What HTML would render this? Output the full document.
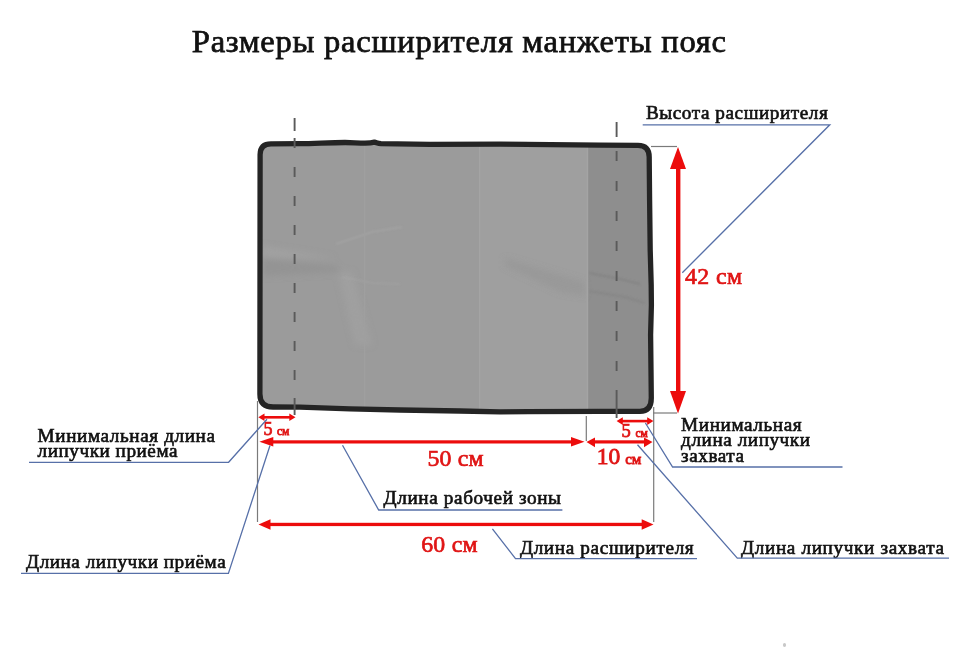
<!DOCTYPE html>
<html><head><meta charset="utf-8">
<style>
html,body{margin:0;padding:0;background:#fff;width:970px;height:647px;overflow:hidden}
svg{position:absolute;left:0;top:0;will-change:transform}
text{font-family:"Liberation Serif",serif}
</style></head>
<body>
<svg width="970" height="647" viewBox="0 0 970 647">
<defs>
<filter id="bl3" x="-20%" y="-50%" width="140%" height="200%"><feGaussianBlur stdDeviation="3"/></filter>
<filter id="bl1" x="-20%" y="-50%" width="140%" height="200%"><feGaussianBlur stdDeviation="1"/></filter>
<clipPath id="mc"><path d="M271,143.9 L300,143.7 C315,143.5 330,142.6 345,142.5 C352,142.5 358,143.2 365,143.2 C369,143.1 372,142.8 374.5,142.2 C376.5,142.6 378,143.4 381,143.6 L430,144.3 L500,144.2 L600,145.1 L638,145.4 Q649.2,145.6 649.2,157 L649.6,200 L650.2,250 L651.2,285 L651.4,305 L650.6,335 L651,370 L651.3,398 Q651.3,411.3 640,411.3 L600,411.4 L500,411.8 L460,411 L400,410 L350,408.9 L300,407.2 L273,407 Q259.9,407 259.9,394 L260.1,154.5 Q260.3,143.9 271,143.9 Z"/></clipPath>
</defs>
<text x="191.8" y="51.8" font-size="32.6" fill="#111" stroke="#111" stroke-width="0.75" textLength="534.2" lengthAdjust="spacing">Размеры расширителя манжеты пояс</text>
<text x="645.9" y="118.8" font-size="19.2" fill="#111" stroke="#111" stroke-width="0.65" textLength="181.9" lengthAdjust="spacing">Высота расширителя</text>
<text x="37.6" y="441.6" font-size="19.2" fill="#111" stroke="#111" stroke-width="0.65" textLength="177.4" lengthAdjust="spacing">Минимальная длина</text>
<text x="37.6" y="457.1" font-size="19.2" fill="#111" stroke="#111" stroke-width="0.65" textLength="139.9" lengthAdjust="spacing">липучки приёма</text>
<text x="26.0" y="568.4" font-size="19.2" fill="#111" stroke="#111" stroke-width="0.65" textLength="199.70000000000002" lengthAdjust="spacing">Длина липучки приёма</text>
<text x="383.6" y="504.3" font-size="19.2" fill="#111" stroke="#111" stroke-width="0.65" textLength="177.4" lengthAdjust="spacing">Длина рабочей зоны</text>
<text x="519.9" y="554.0" font-size="19.2" fill="#111" stroke="#111" stroke-width="0.65" textLength="173.8" lengthAdjust="spacing">Длина расширителя</text>
<text x="681.1" y="430.9" font-size="19.2" fill="#111" stroke="#111" stroke-width="0.65" textLength="120.60000000000001" lengthAdjust="spacing">Минимальная</text>
<text x="681.1" y="446.1" font-size="19.2" fill="#111" stroke="#111" stroke-width="0.65" textLength="128.9" lengthAdjust="spacing">длина липучки</text>
<text x="681.1" y="462.1" font-size="19.2" fill="#111" stroke="#111" stroke-width="0.65" textLength="62.9" lengthAdjust="spacing">захвата</text>
<text x="741.0" y="554.0" font-size="19.2" fill="#111" stroke="#111" stroke-width="0.65" textLength="203.0" lengthAdjust="spacing">Длина липучки захвата</text>

<g clip-path="url(#mc)">
<rect x="250" y="130" width="410" height="290" fill="#9b9b9b"/>
<rect x="480" y="130" width="108" height="290" fill="#9f9f9f"/>
<rect x="588" y="130" width="70" height="290" fill="#8e8e8e"/>
<g filter="url(#bl3)">
<polygon points="262,258 336,266 342,272 262,276" fill="#8e8e8e" opacity="0.55"/>
<polygon points="262,246 336,258 262,258" fill="#a8a8a8" opacity="0.5"/>
<polygon points="505,258 585,282 585,296 560,292 505,266" fill="#929292" opacity="0.45"/>
<polygon points="338,272 352,272 372,345 355,345" fill="#a4a4a4" opacity="0.6"/>

</g>
<g filter="url(#bl1)">
<polyline points="336,244 372,232 402,227" fill="none" stroke="#b2b2b2" stroke-width="1.6" opacity="0.45"/>
<polyline points="342,277 372,283 400,284" fill="none" stroke="#adadad" stroke-width="1.4" opacity="0.4"/>
<polyline points="589,273 620,279 640,284" fill="none" stroke="#7a7a7a" stroke-width="1.6" opacity="0.6"/>
<polyline points="589,291 625,297 645,303" fill="none" stroke="#7c7c7c" stroke-width="1.6" opacity="0.5"/>
</g>
<rect x="586.6" y="130" width="1.6" height="290" fill="#a4a4a4"/>
<rect x="364" y="130" width="1.2" height="290" fill="#9f9f9f"/>
<rect x="479" y="130" width="1.2" height="290" fill="#a4a4a4"/>
</g>
<path d="M271,143.9 L300,143.7 C315,143.5 330,142.6 345,142.5 C352,142.5 358,143.2 365,143.2 C369,143.1 372,142.8 374.5,142.2 C376.5,142.6 378,143.4 381,143.6 L430,144.3 L500,144.2 L600,145.1 L638,145.4 Q649.2,145.6 649.2,157 L649.6,200 L650.2,250 L651.2,285 L651.4,305 L650.6,335 L651,370 L651.3,398 Q651.3,411.3 640,411.3 L600,411.4 L500,411.8 L460,411 L400,410 L350,408.9 L300,407.2 L273,407 Q259.9,407 259.9,394 L260.1,154.5 Q260.3,143.9 271,143.9 Z" fill="none" stroke="#242424" stroke-width="5.3"/>

<g stroke="#5a5a5a" stroke-width="1.9">
<line x1="294.6" y1="118" x2="294.6" y2="131"/>
<line x1="294.6" y1="138" x2="294.6" y2="380" stroke-dasharray="10 19"/>
<line x1="294.6" y1="398" x2="294.6" y2="415"/>
<line x1="616.6" y1="122" x2="616.6" y2="137"/>
<line x1="616.6" y1="151" x2="616.6" y2="372" stroke-dasharray="10 20"/>
<line x1="616.6" y1="390" x2="616.6" y2="418"/>
</g>

<g stroke="#7a7a7a" stroke-width="1.2">
<line x1="651" y1="146.5" x2="677" y2="146.5"/>
<line x1="653" y1="413" x2="677" y2="413"/>
<line x1="257.5" y1="401" x2="257.5" y2="522"/>
<line x1="653.7" y1="407" x2="653.7" y2="522"/>
<line x1="586.3" y1="416" x2="586.3" y2="441"/>
</g>

<g fill="#ec0c0c">
<rect x="676" y="165" width="4.4" height="230"/>
<polygon points="678,147 670,169 686,169"/>
<polygon points="678,413.5 670,391 686,391"/>
<rect x="262" y="416" width="30" height="2.6"/>
<polygon points="258.3,417.3 264.5,413.5 264.5,421.1"/>
<polygon points="295.5,417.3 289.3,413.5 289.3,421.1"/>
<rect x="620" y="419.8" width="30" height="2.6"/>
<polygon points="616.6,421.1 622.8,417.3 622.8,424.9"/>
<polygon points="653.4,421.1 647.2,417.3 647.2,424.9"/>
<rect x="270" y="440.3" width="304" height="3.2"/>
<polygon points="259.4,441.8 273.3,437 273.3,446.4"/>
<polygon points="584.5,441.8 571,437 571,446.4"/>
<rect x="592" y="440.3" width="55" height="3.2"/>
<polygon points="586.5,442 595,437.6 595,447.2"/>
<polygon points="652.5,442 644,437.6 644,447.2"/>
<rect x="268" y="522.8" width="377" height="3.3"/>
<polygon points="258.5,524.5 270.5,519.2 270.5,529.7"/>
<polygon points="653.5,524.5 641.7,519.2 641.7,529.7"/>
</g>
<text x="685.0" y="284.0" font-size="23.8" fill="#e01515" stroke="#e01515" stroke-width="0.7" textLength="57.0" lengthAdjust="spacing">42 см</text>
<text x="427.4" y="465.8" font-size="23.8" fill="#e01515" stroke="#e01515" stroke-width="0.7" textLength="56.2" lengthAdjust="spacing">50 см</text>
<text x="421.2" y="552.3" font-size="23.8" fill="#e01515" stroke="#e01515" stroke-width="0.7" textLength="56.4" lengthAdjust="spacing">60 см</text>
<text x="596.8" y="463.8" font-size="23.5" fill="#e01515" stroke="#e01515" stroke-width="0.85">10 <tspan font-size="15" dx="-1">см</tspan></text>
<text x="263.5" y="434.7" font-size="18" fill="#e01515" stroke="#e01515" stroke-width="0.75">5 <tspan font-size="11.5">см</tspan></text>
<text x="621.5" y="436.9" font-size="18.5" fill="#e01515" stroke="#e01515" stroke-width="0.75">5 <tspan font-size="11.5">см</tspan></text>

<g stroke="#5770a8" stroke-width="1.3" fill="none">
<polyline points="642.7,124.8 829.8,124.8 682.3,272.8"/>
<polyline points="29,462.3 228.6,462.3 267,419.2"/>
<polyline points="21,573.4 228.4,573.4 270,445.5"/>
<polyline points="342.5,445.3 378.7,510 562.4,510"/>
<polyline points="492.4,528.8 515.5,558.7 697,558.7"/>
<polyline points="645.4,423 672.6,467 842.5,467"/>
<polyline points="637.5,444.8 737.3,558.2 949,558.2"/>
</g>
<ellipse cx="784.5" cy="645" rx="1.6" ry="2" fill="#c8c8c8"/>
</svg>
</body></html>
